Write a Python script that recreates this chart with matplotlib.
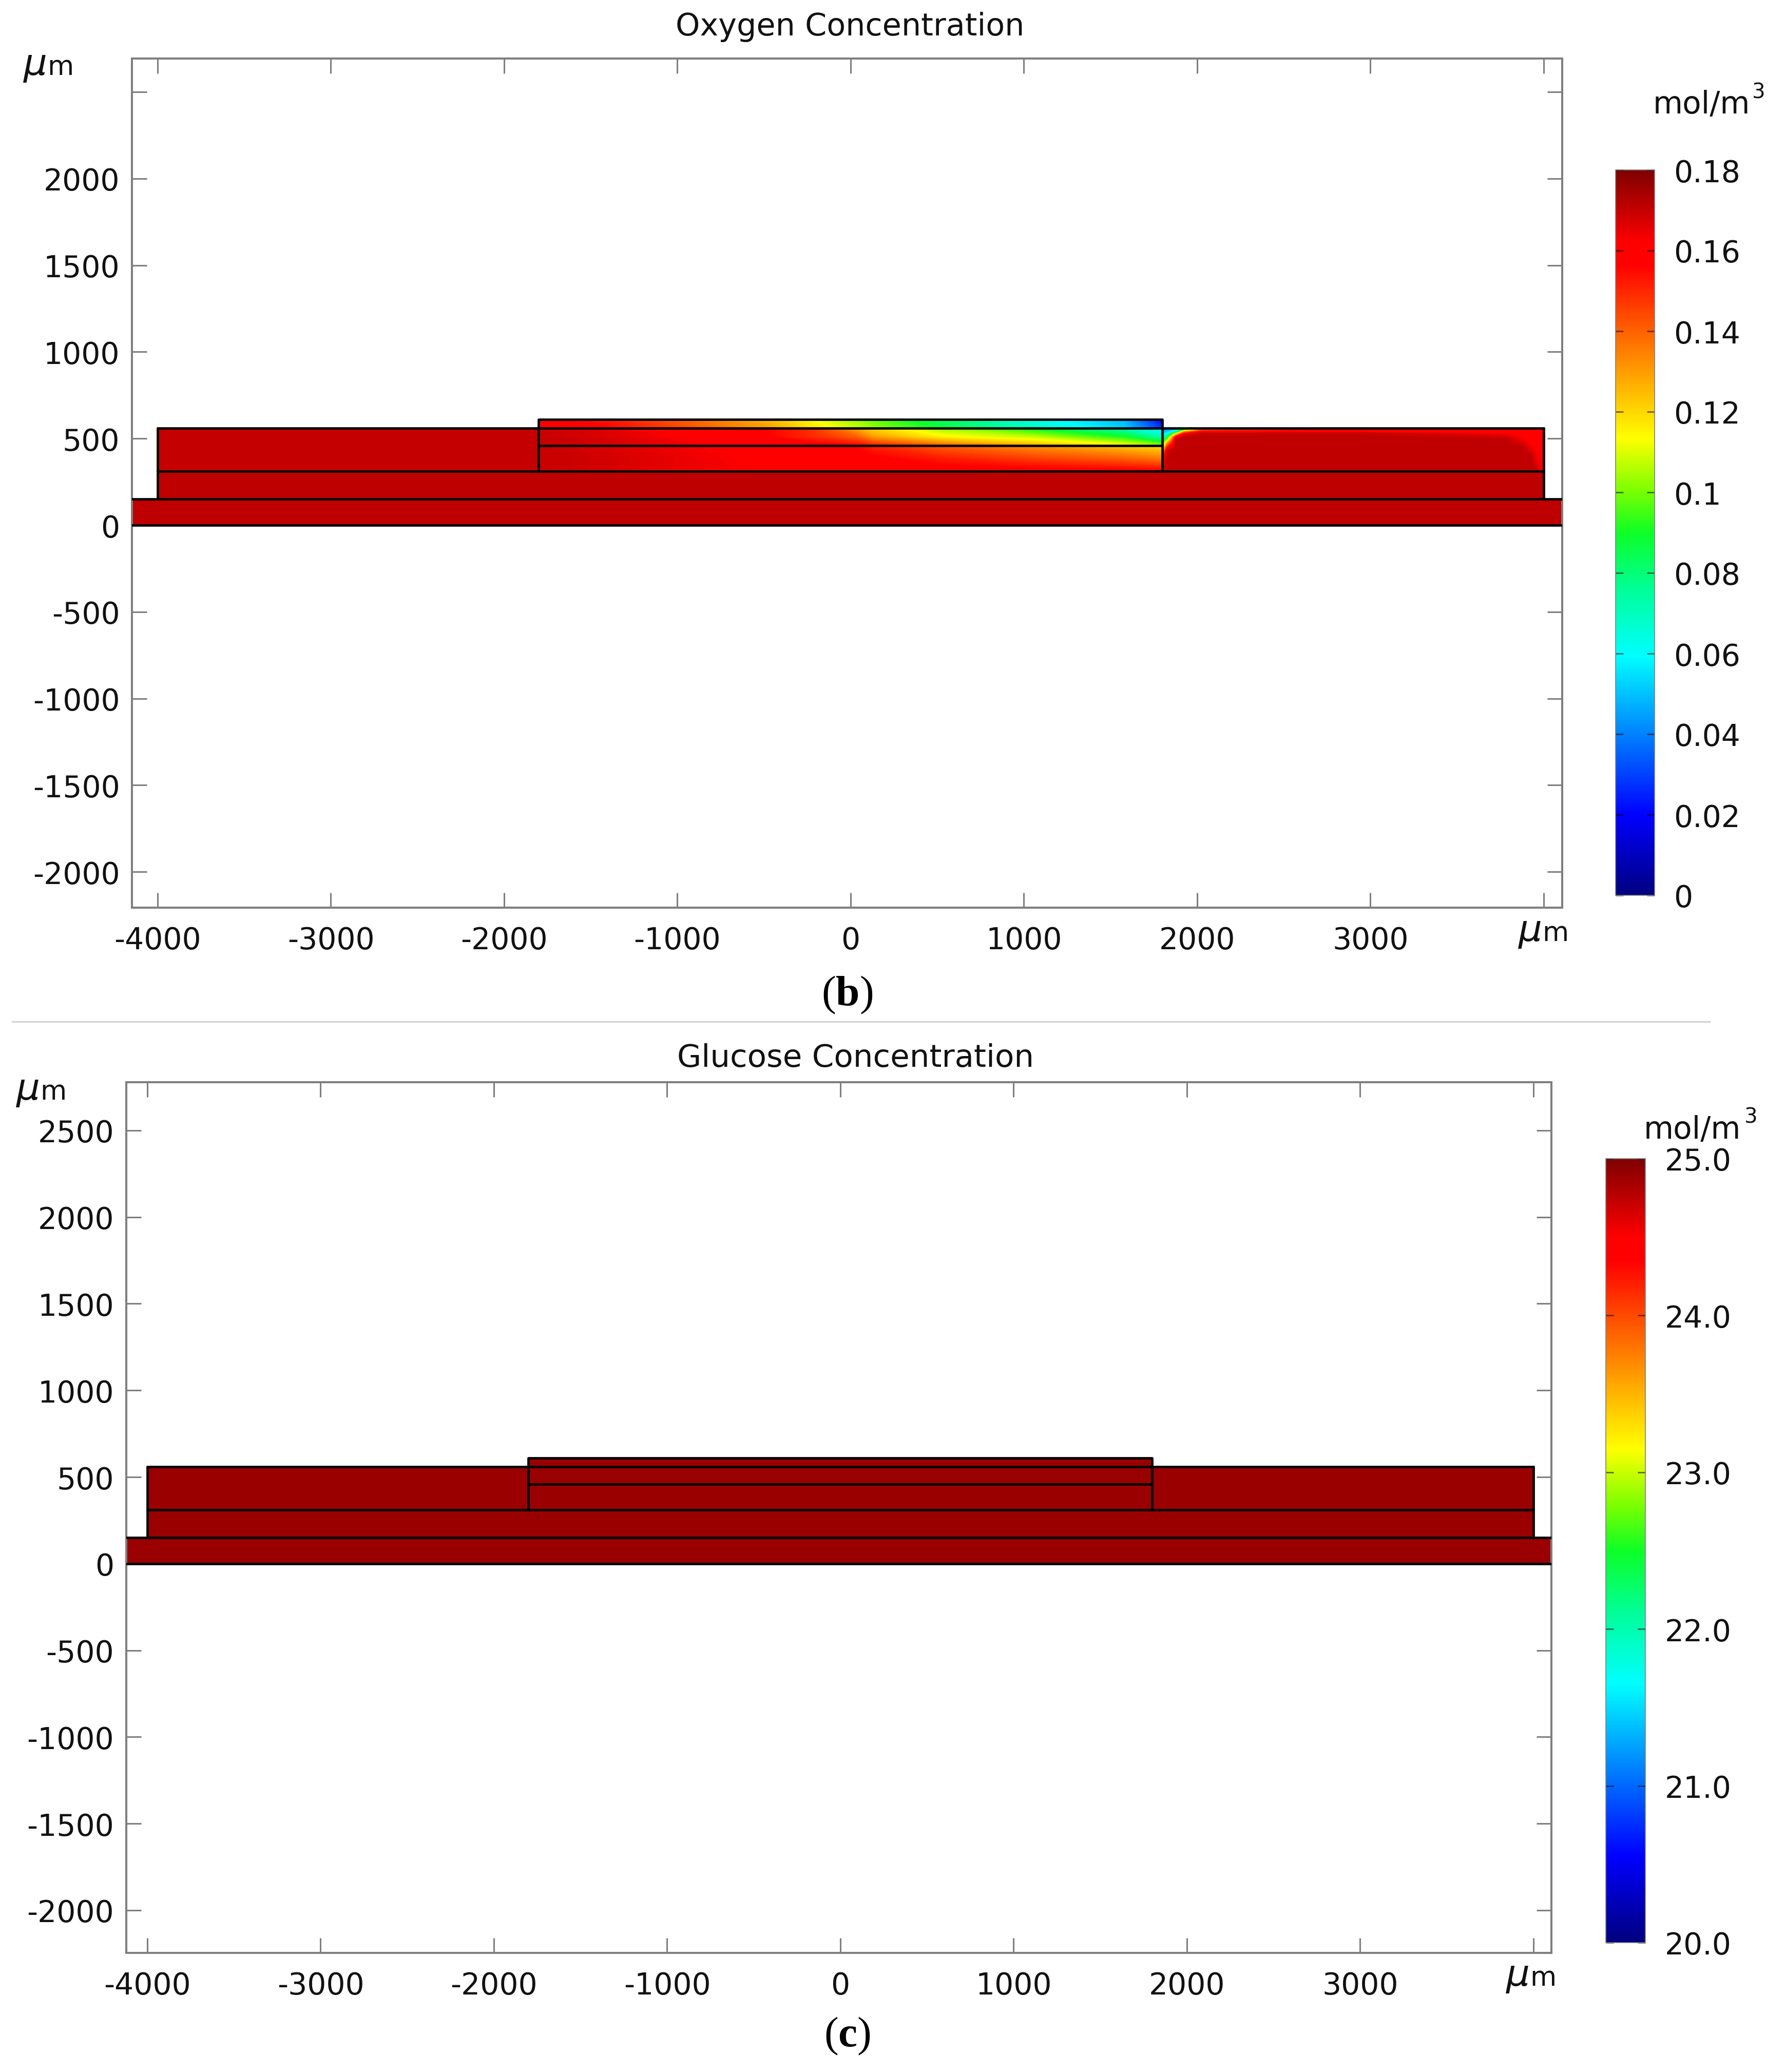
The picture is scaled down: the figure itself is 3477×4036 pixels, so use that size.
"""Oxygen and glucose concentration maps in the layered device, with rainbow colour bars. Writes out.png."""
import numpy as np
import matplotlib
matplotlib.use("Agg")
import matplotlib.pyplot as plt
from matplotlib.cm import ScalarMappable
from matplotlib.colors import LinearSegmentedColormap, Normalize
from matplotlib.lines import Line2D

W, H = 3477, 4037
DPI = 100
GREY = "#7f7f7f"
FS = 42

X_TICKS = [-4000, -3000, -2000, -1000, 0, 1000, 2000, 3000, 4000]
X_LABELS = ["-4000", "-3000", "-2000", "-1000", "0", "1000", "2000", "3000", ""]
Y_TICKS = [-2000, -1500, -1000, -500, 0, 500, 1000, 1500, 2000, 2500]
Y_LABELS_B = ["-2000", "-1500", "-1000", "-500", "0", "500", "1000", "1500", "2000", ""]
Y_LABELS_C = ["-2000", "-1500", "-1000", "-500", "0", "500", "1000", "1500", "2000", "2500"]

O2_TICKS = [0, 0.02, 0.04, 0.06, 0.08, 0.1, 0.12, 0.14, 0.16, 0.18]
O2_LABELS = ["0", "0.02", "0.04", "0.06", "0.08", "0.1", "0.12", "0.14", "0.16", "0.18"]
GLC_TICKS = [20, 21, 22, 23, 24, 25]
GLC_LABELS = ["20.0", "21.0", "22.0", "23.0", "24.0", "25.0"]

# device layers, um
Y_BASE = 150
Y_LOW = 310
Y_CENTER_MID = 460
Y_OUTER = 560
Y_CENTER_TOP = 610
X_OUTER = 4000
X_CENTER = 1800

# flat values in the parts that show no gradient
O2_BASE = 0.171
O2_LEFT = 0.170
GLC_FLAT = 24.89

# oxygen over the center block
CENTER_X = [-1800, -1400, -1022, -490, -228, 38, 127, 524, 1052, 1580, 1780, 1800]
TOP_Y = [560, 610]
TOP_O2 = [
    [.160, .156, .146, .130, .118, .107, .103, .088, .068, .052, .030, .026],
    [.159, .153, .142, .126, .114, .103, .098, .083, .064, .048, .022, .018],
]
MID_Y = [460, 510, 560]
MID_O2 = [
    [.170, .168, .165, .161, .159, .156, .152, .140, .127, .114, .105, .103],
    [.170, .167, .162, .157, .150, .140, .130, .115, .107, .090, .072, .070],
    [.169, .166, .161, .156, .148, .128, .120, .103, .088, .070, .058, .056],
]
LOW_Y = [310, 385, 460]
LOW_O2 = [
    [.170, .168, .165, .162, .161, .161, .161, .160, .160, .159, .158, .158],
    [.170, .168, .165, .161, .160, .159, .158, .152, .146, .140, .136, .135],
    [.170, .167, .164, .160, .159, .155, .150, .140, .131, .122, .118, .118],
]
# oxygen in the open part right of the block
RIGHT_X = [1800, 1828, 1877, 1926, 2030, 2400, 3000, 3780, 3880, 3930, 3960, 4000]
RIGHT_Y = [310, 346, 365, 405, 425, 444, 469, 489, 509, 528, 540, 550, 560]
RIGHT_O2 = [
    [.168, .171, .171, .171, .171, .171, .171, .171, .171, .171, .170, .163],
    [.166, .171, .171, .171, .171, .171, .171, .171, .171, .171, .166, .162],
    [.163, .171, .171, .171, .171, .171, .171, .171, .171, .171, .164, .162],
    [.148, .171, .171, .171, .171, .171, .171, .171, .171, .170, .163, .161],
    [.130, .170, .171, .171, .171, .171, .171, .171, .171, .166, .162, .161],
    [.112, .160, .171, .171, .171, .171, .171, .171, .171, .164, .162, .161],
    [.095, .135, .171, .171, .171, .171, .171, .171, .167, .162, .161, .160],
    [.082, .110, .170, .171, .171, .171, .171, .171, .164, .162, .161, .160],
    [.066, .082, .160, .171, .171, .171, .171, .168, .162, .161, .160, .160],
    [.052, .062, .112, .160, .171, .171, .171, .163, .161, .160, .160, .159],
    [.046, .052, .070, .130, .160, .161, .161, .160, .160, .160, .160, .159],
    [.044, .046, .052, .090, .140, .148, .160, .158, .158, .158, .158, .158],
    [.042, .044, .046, .070, .120, .135, .155, .155, .155, .155, .155, .155],
]

# COMSOL style rainbow, no pale band around the green
RAINBOW = LinearSegmentedColormap.from_list("rainbow_comsol", [
    (0.00, (0, 0, 0.5)),
    (0.11, (0, 0, 1)),
    (0.33, (0, 1, 1)),
    (0.42, (0, 1, 0.6)),
    (0.50, (0.05, 1, 0.15)),
    (0.56, (0.5, 1, 0)),
    (0.63, (1, 1, 0)),
    (0.87, (1, 0, 0)),
    (0.90, (1, 0, 0)),
    (1.00, (0.5, 0, 0)),
], N=512)


def px_axes(fig, left, top, right, bottom):
    return fig.add_axes([left / W, 1 - bottom / H, (right - left) / W, (bottom - top) / H])


def px_text(fig, x, y, s, **kw):
    kw.setdefault("fontsize", FS)
    kw.setdefault("color", "#111111")
    return fig.text(x / W, 1 - y / H, s, **kw)


def unit_um(fig, x, base):
    # COMSOL draws the mu large and slanted next to an upright m
    px_text(fig, x, base, "\u03bc", style="italic", fontsize=52, ha="right", va="baseline")
    px_text(fig, x, base, "m", fontsize=38, ha="left", va="baseline")


def unit_mol(fig, x, base, x3, base3):
    px_text(fig, x, base, "mol/m", fontsize=43, ha="left", va="baseline")
    px_text(fig, x3, base3, "3", fontsize=29, ha="left", va="baseline")


def geometry_lines(ax, xlim):
    segs = [
        (xlim, [0, 0]),
        (xlim, [Y_BASE, Y_BASE]),
        ([-X_OUTER, X_OUTER], [Y_LOW, Y_LOW]),
        ([-X_OUTER, X_OUTER], [Y_OUTER, Y_OUTER]),
        ([-X_CENTER, X_CENTER], [Y_CENTER_MID, Y_CENTER_MID]),
        ([-X_CENTER, -X_CENTER, X_CENTER, X_CENTER], [Y_LOW, Y_CENTER_TOP, Y_CENTER_TOP, Y_LOW]),
        ([-X_OUTER, -X_OUTER], [Y_BASE, Y_OUTER]),
        ([X_OUTER, X_OUTER], [Y_BASE, Y_OUTER]),
    ]
    for xs, ys in segs:
        ax.plot(xs, ys, color="black", lw=3.4, zorder=3, solid_capstyle="round", solid_joinstyle="round")


def style_axes(ax, xlim, ylim, ylabels):
    ax.set_xlim(xlim)
    ax.set_ylim(ylim)
    ax.set_xticks(X_TICKS)
    ax.set_xticklabels(X_LABELS)
    ax.set_yticks(Y_TICKS)
    ax.set_yticklabels(ylabels)
    ax.tick_params(axis="both", which="major", direction="in", length=21, width=2.2, color=GREY,
                   top=True, right=True, labelsize=FS, labelcolor="#111111")
    ax.tick_params(axis="x", pad=25)
    ax.tick_params(axis="y", pad=17)
    for sp in ax.spines.values():
        sp.set_color(GREY)
        sp.set_linewidth(2.9)


def flat_blocks(ax, xlim, cmap, norm, base_val, left_val):
    base_c = cmap(norm(base_val))
    left_c = cmap(norm(left_val))
    ax.fill_between(xlim, 0, Y_BASE, color=base_c, lw=0, zorder=1)
    ax.fill_between([-X_OUTER, X_OUTER], Y_BASE, Y_LOW, color=base_c, lw=0, zorder=1)
    ax.fill_between([-X_OUTER, -X_CENTER], Y_LOW, Y_OUTER, color=left_c, lw=0, zorder=1)


def colorbar(fig, rect, cmap, norm, ticks, labels):
    cax = px_axes(fig, *rect)
    cb = fig.colorbar(ScalarMappable(norm=norm, cmap=cmap), cax=cax, ticks=ticks)
    cb.ax.set_yticklabels(labels)
    cb.ax.minorticks_off()
    cb.ax.tick_params(axis="y", direction="in", left=True, right=True, length=11, width=2,
                      color=(0, 0, 0, 0.55), labelsize=FS, labelcolor="#111111", pad=27)
    cb.outline.set_edgecolor(GREY)
    cb.outline.set_linewidth(1.2)


def main():
    fig = plt.figure(figsize=(W / DPI, H / DPI), dpi=DPI, facecolor="white")
    cmap = RAINBOW

    # (b) oxygen
    norm = Normalize(0, 0.18)
    levels = np.linspace(0, 0.18, 361)
    ax = px_axes(fig, 257, 115, 3043, 1769)
    xlim = [-4148, 4107]
    flat_blocks(ax, xlim, cmap, norm, O2_BASE, O2_LEFT)
    for xs, ys, zs in [(CENTER_X, TOP_Y, TOP_O2), (CENTER_X, MID_Y, MID_O2), (CENTER_X, LOW_Y, LOW_O2),
                       (RIGHT_X, RIGHT_Y, RIGHT_O2)]:
        ax.contourf(xs, ys, zs, levels=levels, cmap=cmap, norm=norm, zorder=2)
    geometry_lines(ax, xlim)
    style_axes(ax, xlim, [-2207, 2693], Y_LABELS_B)
    colorbar(fig, (3147, 332, 3223, 1745), cmap, norm, O2_TICKS, O2_LABELS)
    unit_mol(fig, 3220, 221, 3413, 192)
    unit_um(fig, 92, 146)
    unit_um(fig, 3004, 1833)
    px_text(fig, 1656, 52, "Oxygen Concentration", fontsize=43.5, ha="center", va="center")

    # (c) glucose
    norm = Normalize(20, 25)
    ax = px_axes(fig, 245.5, 2109, 3022, 3805)
    xlim = [-4123, 4104]
    flat_blocks(ax, xlim, cmap, norm, GLC_FLAT, GLC_FLAT)
    flat_c = cmap(norm(GLC_FLAT))
    ax.fill_between([-X_CENTER, X_CENTER], Y_LOW, Y_CENTER_TOP, color=flat_c, lw=0, zorder=1)
    ax.fill_between([X_CENTER, X_OUTER], Y_LOW, Y_OUTER, color=flat_c, lw=0, zorder=1)
    geometry_lines(ax, xlim)
    style_axes(ax, xlim, [-2246, 2778], Y_LABELS_C)
    colorbar(fig, (3128, 2258, 3205, 3785), cmap, norm, GLC_TICKS, GLC_LABELS)
    unit_mol(fig, 3202, 2218, 3398, 2188)
    unit_um(fig, 78, 2142)
    unit_um(fig, 2980, 3868)
    px_text(fig, 1667, 2062, "Glucose Concentration", fontsize=44, ha="center", va="center")

    # panel captions and the rule between the panels
    plt.rcParams["mathtext.fontset"] = "custom"
    plt.rcParams["mathtext.bf"] = "Liberation Serif:bold"
    plt.rcParams["mathtext.rm"] = "Liberation Serif"
    for y, s in [(1938, r"$\mathrm{(}\mathbf{b}\mathrm{)}$"), (3966, r"$\mathrm{(}\mathbf{c}\mathrm{)}$")]:
        px_text(fig, 1650, y, s, fontsize=60, color="black", ha="center", va="center")
    fig.add_artist(Line2D([24 / W, 3330 / W], [1 - 1991 / H, 1 - 1991 / H], color="#d4d4d4", lw=2.4))

    fig.savefig("out.png", dpi=DPI, facecolor="white")


if __name__ == "__main__":
    main()
